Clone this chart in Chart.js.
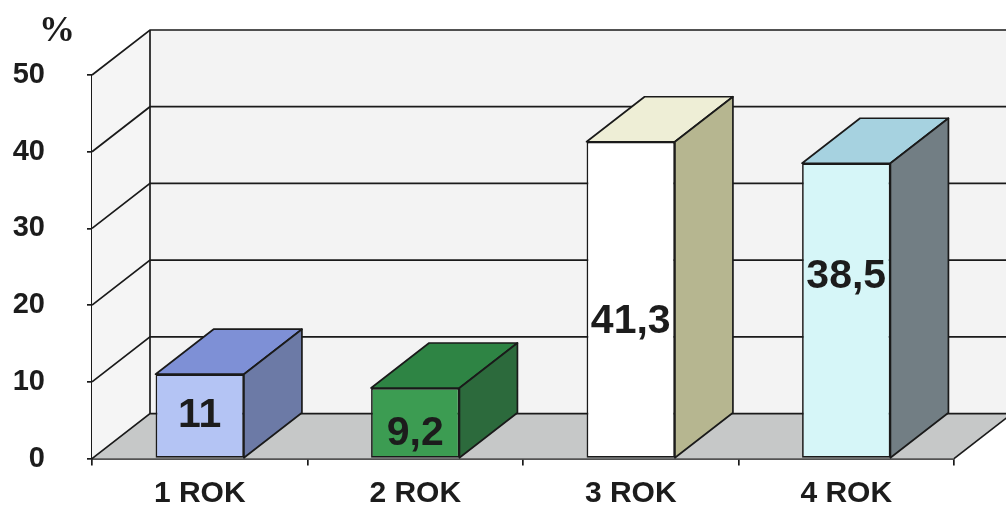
<!DOCTYPE html>
<html>
<head>
<meta charset="utf-8">
<script src="https://cdn.jsdelivr.net/npm/chart.js@4.4.1/dist/chart.umd.min.js"></script>
<style>
  html, body { margin: 0; padding: 0; background: #fff; overflow: hidden; }
  #wrap { width: 1006px; height: 518px; }
  canvas { display: block; }
</style>
</head>
<body>
<div id="wrap"><canvas id="wykres" width="1006" height="518"></canvas></div>
<script>
const kategorie = ["1 ROK", "2 ROK", "3 ROK", "4 ROK"];
const wartosci = [11, 9.2, 41.3, 38.5];
const etykiety = ["11", "9,2", "41,3", "38,5"];
const yTicks = [0, 10, 20, 30, 40, 50];

// kolory scian slupkow: przod, gora, bok
const przod = ["#b4c4f4", "#3c9c52", "#ffffff", "#d6f6f8"];
const gora = ["#7e90d6", "#2e8444", "#eeeed6", "#a6d2e0"];
const bok = ["#6c7aa6", "#2c6a3c", "#b6b690", "#727e84"];

// gdzie stoi liczba na slupku (czesc wysokosci od dolu)
const polozenieEtykiety = [0.5, 0.35, 0.43, 0.615];

const DX = 58, DY = -45;
const czcionka = "'Liberation Sans', Arial, sans-serif";

const ramka3d = {
  id: "ramka3d",
  beforeDatasetsDraw(chart) {
    const { ctx, chartArea: a, scales } = chart;
    const y = scales.y;
    ctx.save();
    // tylna sciana
    ctx.fillStyle = "#f3f3f3";
    ctx.fillRect(a.left + DX, a.top + DY, a.right - a.left, a.bottom - a.top);
    // lewa sciana
    ctx.fillStyle = "#f5f5f5";
    ctx.beginPath();
    ctx.moveTo(a.left, a.top);
    ctx.lineTo(a.left + DX, a.top + DY);
    ctx.lineTo(a.left + DX, a.bottom + DY);
    ctx.lineTo(a.left, a.bottom);
    ctx.closePath();
    ctx.fill();
    // podloga
    ctx.fillStyle = "#c6c8c8";
    ctx.beginPath();
    ctx.moveTo(a.left, a.bottom);
    ctx.lineTo(a.right, a.bottom);
    ctx.lineTo(a.right + DX, a.bottom + DY);
    ctx.lineTo(a.left + DX, a.bottom + DY);
    ctx.closePath();
    ctx.fill();

    ctx.strokeStyle = "#1a1a1a";
    ctx.lineWidth = 1.7;
    yTicks.forEach(v => {
      const py = y.getPixelForValue(v);
      ctx.beginPath();
      ctx.moveTo(a.left, py);
      ctx.lineTo(a.left + DX, py + DY);
      ctx.lineTo(a.right + DX, py + DY);
      ctx.stroke();
    });
    // tylna krawedz pionowa
    ctx.beginPath();
    ctx.moveTo(a.left + DX, a.top + DY);
    ctx.lineTo(a.left + DX, a.bottom + DY);
    ctx.stroke();
    // prawa krawedz podlogi
    ctx.beginPath();
    ctx.moveTo(a.right, a.bottom);
    ctx.lineTo(a.right + DX, a.bottom + DY);
    ctx.stroke();
    ctx.restore();
  },
  afterDatasetsDraw(chart) {
    const { ctx, chartArea: a, scales } = chart;
    const meta = chart.getDatasetMeta(0);
    ctx.save();
    ctx.strokeStyle = "#1a1a1a";
    ctx.lineWidth = 1.7;
    ctx.lineJoin = "round";
    meta.data.forEach((bar, i) => {
      const l = bar.x - bar.width / 2, r = bar.x + bar.width / 2;
      const t = bar.y, b = bar.base;
      // gora
      ctx.fillStyle = gora[i];
      ctx.beginPath();
      ctx.moveTo(l, t);
      ctx.lineTo(l + DX, t + DY);
      ctx.lineTo(r + DX, t + DY);
      ctx.lineTo(r, t);
      ctx.closePath();
      ctx.fill();
      ctx.stroke();
      // bok
      ctx.fillStyle = bok[i];
      ctx.beginPath();
      ctx.moveTo(r, t);
      ctx.lineTo(r + DX, t + DY);
      ctx.lineTo(r + DX, b + DY);
      ctx.lineTo(r, b);
      ctx.closePath();
      ctx.fill();
      ctx.stroke();
      // liczba
      ctx.fillStyle = "#1c1c1c";
      ctx.font = "bold 41px " + czcionka;
      ctx.textAlign = "center";
      ctx.textBaseline = "middle";
      ctx.fillText(etykiety[i], bar.x, b - (b - t) * polozenieEtykiety[i]);
    });
    // podpisy kategorii pod osia
    const x = scales.x;
    ctx.font = "bold 30px " + czcionka;
    ctx.fillStyle = "#1c1c1c";
    x.ticks.forEach((tk, i) => {
      ctx.fillText(x.getLabelForValue(tk.value), x.getPixelForTick(i), a.bottom + 35);
    });
    // znak procentu nad osia
    ctx.font = "bold 36px 'Liberation Serif', 'Times New Roman', serif";
    ctx.fillText("%", 57, 32);
    ctx.restore();
  }
};

new Chart(document.getElementById("wykres"), {
  type: "bar",
  data: {
    labels: kategorie,
    datasets: [{
      data: wartosci,
      backgroundColor: przod,
      borderColor: "#1a1a1a",
      borderWidth: 1.7,
      borderSkipped: false,
      barPercentage: 0.41,
      categoryPercentage: 1
    }]
  },
  options: {
    responsive: false,
    animation: false,
    layout: { padding: { top: 75, right: 52, left: 0, bottom: 42 } },
    plugins: { legend: { display: false }, tooltip: { enabled: false } },
    scales: {
      x: {
        grid: { display: true, drawOnChartArea: false, drawTicks: true, tickLength: 7, color: "#1a1a1a", lineWidth: 1.7 },
        border: { display: true, color: "#1a1a1a", width: 1.7 },
        ticks: { display: false }
      },
      y: {
        min: 0, max: 50,
        afterFit(s) { s.width = 92; },
        afterBuildTicks(s) { s.ticks = yTicks.map(v => ({ value: v })); },
        grid: { display: true, drawOnChartArea: false, drawTicks: true, tickLength: 5, color: "#1a1a1a", lineWidth: 1.7 },
        border: { display: true, color: "#1a1a1a", width: 1.7 },
        ticks: { color: "#1c1c1c", padding: 42, font: { family: czcionka, size: 29, weight: "bold" } }
      }
    }
  },
  plugins: [ramka3d]
});
</script>
</body>
</html>
